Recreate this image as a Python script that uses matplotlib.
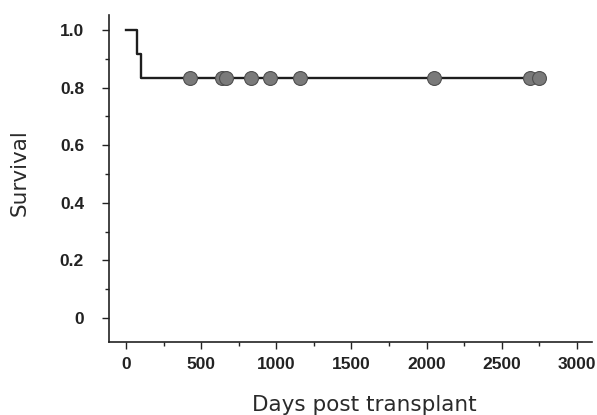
import matplotlib.pyplot as plt
from matplotlib.ticker import MultipleLocator, FuncFormatter

# Kaplan-Meier steps (days, survival)
step_days = [0, 75, 97, 2745]
step_surv = [1.0, 0.917, 0.833, 0.833]

# censored patients
censor_days = [425, 640, 668, 830, 956, 1155, 2050, 2685, 2745]
censor_surv = [0.833] * len(censor_days)

x_ticks = [0, 500, 1000, 1500, 2000, 2500, 3000]
y_ticks = [0, 0.2, 0.4, 0.6, 0.8, 1.0]

plt.rcParams['font.family'] = ['Liberation Sans', 'DejaVu Sans']

fig = plt.figure(figsize=(5.97, 4.15), dpi=100)
ax = fig.add_axes([0.1826, 0.1759, 0.809, 0.788])

ax.step(step_days, step_surv, where='post', color='#1e1e1e', linewidth=1.7, zorder=2)
ax.plot(censor_days, censor_surv, 'o', markersize=10, markerfacecolor='#7a7a7a',
        markeredgecolor='#4f4f4f', markeredgewidth=0.8, zorder=3)

ax.set_xlim(-113, 3100)
ax.set_ylim(-0.083, 1.052)

ax.set_xticks(x_ticks)
ax.set_yticks(y_ticks)
ax.xaxis.set_minor_locator(MultipleLocator(250))
ax.yaxis.set_minor_locator(MultipleLocator(0.1))
ax.yaxis.set_major_formatter(FuncFormatter(lambda v, p: '0' if v == 0 else f'{v:.1f}'))

for s in ['top', 'right']:
    ax.spines[s].set_visible(False)
for s in ['left', 'bottom']:
    ax.spines[s].set_linewidth(1.2)
    ax.spines[s].set_color('#222222')

ax.tick_params(which='major', length=5, width=1, color='#222222', pad=5.5)
ax.tick_params(which='minor', length=3, width=1, color='#222222')
ax.tick_params(axis='y', pad=13)
for lbl in ax.get_xticklabels() + ax.get_yticklabels():
    lbl.set_fontsize(12.5)
    lbl.set_fontweight('bold')
    lbl.set_color('#222222')

# axis titles, placed in figure pixels
fig.text(364 / 597, 1 - 405 / 415, 'Days post transplant', fontsize=15.5,
         family='DejaVu Sans', color='#2a2a2a', ha='center', va='center')
fig.text(20 / 597, 1 - 173 / 415, 'Survival', fontsize=15.5, rotation=90,
         family='DejaVu Sans', color='#2a2a2a', ha='center', va='center')

fig.savefig('out.png', dpi=100)
